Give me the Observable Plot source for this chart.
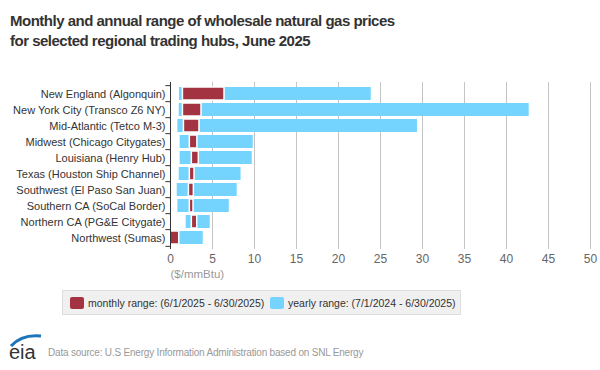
<!DOCTYPE html>
<html>
<head>
<meta charset="utf-8">
<script src="https://cdn.jsdelivr.net/npm/d3@7"></script>
<script src="https://cdn.jsdelivr.net/npm/@observablehq/plot@0.6"></script>
<style>
  html, body { margin: 0; padding: 0; background: #fff; }
  body { width: 600px; height: 370px; position: relative; overflow: hidden; font-family: "Liberation Sans", Arial, sans-serif; }
  #title { position: absolute; left: 10px; top: 11px; font-size: 15px; letter-spacing: -0.5px; font-weight: bold; color: #333; line-height: 19.5px; white-space: nowrap; }
  #chart { position: absolute; left: 0; top: 0; }
  #legend { position: absolute; left: 62px; top: 290px; width: 397px; height: 23px; background: #f0f0f0; border: 1px solid #ddd; box-sizing: content-box; font-size: 10.5px; color: #333; }
  .item { position: absolute; top: 5px; line-height: 14px; white-space: nowrap; }
  .sw { position: absolute; top: 6px; width: 14px; height: 12px; border-radius: 2px; }
  #source { position: absolute; left: 48px; top: 347px; font-size: 10px; letter-spacing: -0.2px; color: #999; white-space: nowrap; }
  #logo { position: absolute; left: 8px; top: 333px; }
</style>
</head>
<body>
<div id="chart"></div>
<div id="title">Monthly and annual range of wholesale natural gas prices<br>for selected regional trading hubs, June 2025</div>
<div id="legend"></div>
<svg id="logo" width="36" height="30" viewBox="0 0 36 30">
  <path d="M3 13 Q14 1 33 3" fill="none" stroke="#1b75bb" stroke-width="3"/>
  <text x="1" y="26" font-family="Liberation Sans, Arial, sans-serif" font-size="20" fill="#333">eia</text>
</svg>
<div id="source">Data source: U.S Energy Information Administration based on SNL Energy</div>
<script>
const hubs = [
  "New England (Algonquin)",
  "New York City (Transco Z6 NY)",
  "Mid-Atlantic (Tetco M-3)",
  "Midwest (Chicago Citygates)",
  "Louisiana (Henry Hub)",
  "Texas (Houston Ship Channel)",
  "Southwest (El Paso San Juan)",
  "Southern CA (SoCal Border)",
  "Northern CA (PG&E Citygate)",
  "Northwest (Sumas)"
];
const yearlyLow  = [1.07, 1.04, 0.88, 1.15, 1.15, 1.04, 0.80, 0.88, 1.87, 0.00];
const yearlyHigh = [23.9, 42.7, 29.4, 9.85, 9.73, 8.40, 7.94, 7.00, 4.73, 3.90];
const monthlyLow  = [1.48, 1.48, 1.60, 2.30, 2.54, 2.30, 2.19, 2.30, 2.54, 0.00];
const monthlyHigh = [6.43, 3.69, 3.45, 3.20, 3.37, 2.86, 2.78, 2.74, 3.18, 1.04];
const xTicks = [0, 5, 10, 15, 20, 25, 30, 35, 40, 45, 50];
const xLabel = "($/mmBtu)";
const seriesNames = ["monthly range: (6/1/2025 - 6/30/2025)", "yearly range: (7/1/2024 - 6/30/2025)"];
const colors = ["#a43341", "#75d4fe"];

const rows = hubs.map((h, i) => ({hub: h, yLow: yearlyLow[i], yHigh: yearlyHigh[i], mLow: monthlyLow[i], mHigh: monthlyHigh[i]}));

const marginTop = 82, marginBottom = 41;
const height = 290;
const step = (height - marginTop - marginBottom) / hubs.length;

const chart = Plot.plot({
  width: 600,
  height,
  marginTop,
  marginBottom,
  marginLeft: 170,
  marginRight: 10,
  style: {fontFamily: "Liberation Sans, Arial, sans-serif", fontSize: "11px", background: "transparent"},
  x: {domain: [0, 50]},
  y: {domain: hubs, paddingInner: 0.16, paddingOuter: 0.08},
  marks: [
    Plot.gridX(xTicks.filter(v => v > 0), {stroke: "#c4c4c4", strokeOpacity: 1, strokeWidth: 1}),
    Plot.barX(rows, {y: "hub", x1: "yLow", x2: "yHigh", fill: colors[1]}),
    Plot.barX(rows, {y: "hub", x1: "mLow", x2: "mHigh", fill: colors[0], stroke: "white", strokeWidth: 1.5}),
    Plot.axisX(xTicks, {tickSize: 0, tickPadding: 5, color: "#666", fontSize: 12, label: null}),
    Plot.text([xLabel], {frameAnchor: "bottom-left", textAnchor: "start", dy: 28, fill: "#999", fontSize: 11.5}),
    Plot.axisY({tickSize: 0, tickPadding: 5, color: "#333", fontSize: 11, label: null}),
    Plot.ruleX([0], {stroke: "#333", strokeWidth: 1}),
    Plot.ruleY(hubs, {y: d => d, x1: -0.55, x2: 0, dy: -step / 2, stroke: "#333", clip: false}),
    Plot.ruleY(hubs.slice(-1), {y: d => d, x1: -0.55, x2: 0, dy: step / 2, stroke: "#333", clip: false})
  ]
});
document.getElementById("chart").appendChild(chart);

const legend = document.getElementById("legend");
const swX = [7, 207];
const txX = [25, 225];
seriesNames.forEach((name, i) => {
  const sw = document.createElement("div");
  sw.className = "sw";
  sw.style.left = swX[i] + "px";
  sw.style.background = colors[i];
  legend.appendChild(sw);
  const t = document.createElement("div");
  t.className = "item";
  t.style.left = txX[i] + "px";
  t.textContent = name;
  legend.appendChild(t);
});
</script>
</body>
</html>
